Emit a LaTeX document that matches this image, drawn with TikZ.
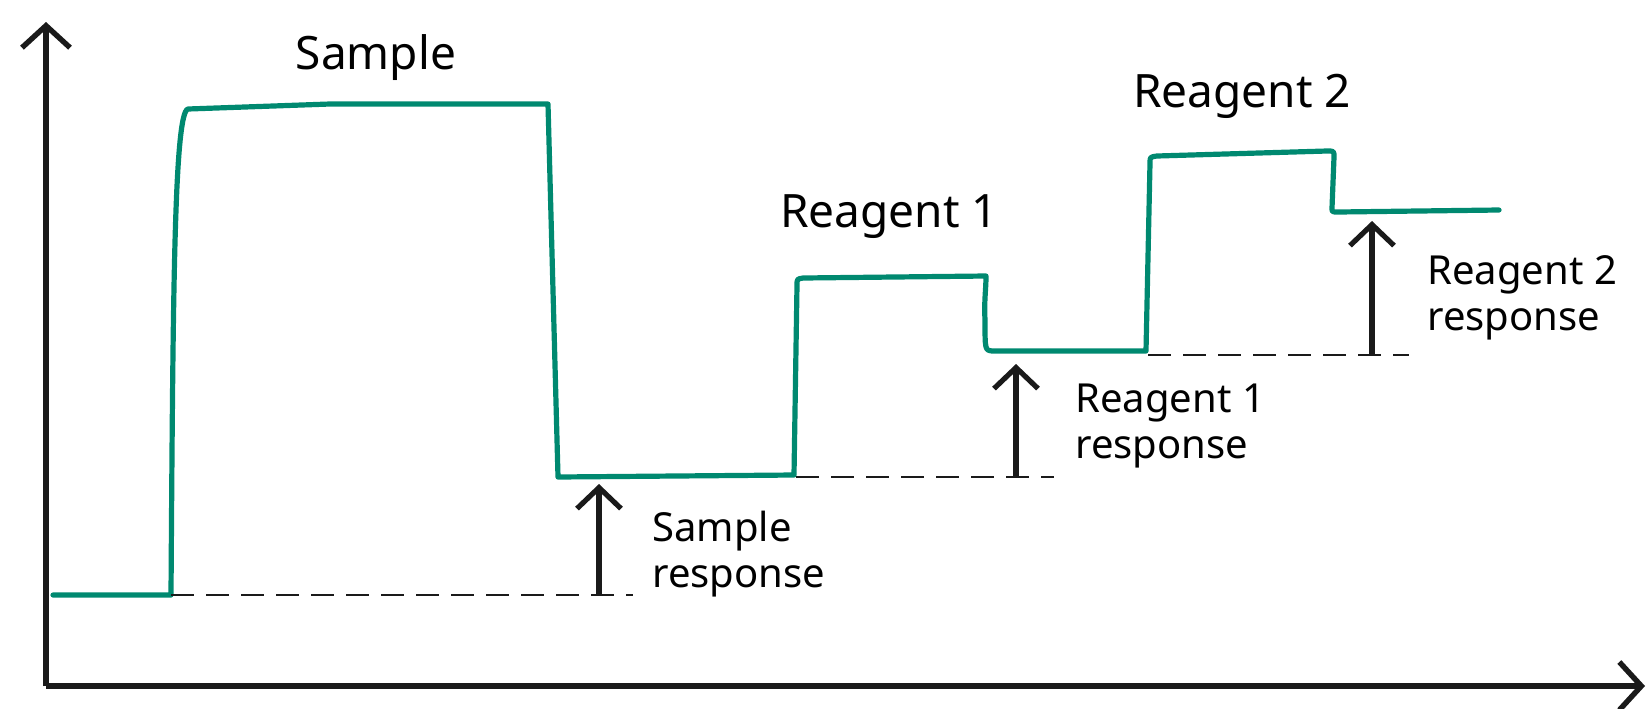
\documentclass[tikz,border=0pt]{standalone}
\usepackage{fontspec}
\setmainfont{Noto Sans}
\usetikzlibrary{arrows.meta}
\definecolor{curve}{RGB}{0,137,112}
\definecolor{ink}{RGB}{26,26,26}
\begin{document}
\begin{tikzpicture}[x=0.5pt,y=-0.5pt,
  axis/.style={draw=ink,line width=2.7pt,line cap=butt,-{Straight Barb[length=11pt,width=24pt,line width=2.7pt]}},
  resp/.style={draw=ink,line width=2.6pt,-{Straight Barb[length=10.5pt,width=22pt,line width=2.6pt]}},
  base/.style={draw=ink,line width=1.4pt,dash pattern=on 11.5pt off 6pt},
  sig/.style={draw=curve,line width=2.6pt,line join=round,line cap=round},
  bigl/.style={font=\fontsize{23}{27}\selectfont,inner sep=0pt,anchor=base},
  smalll/.style={font=\fontsize{20}{23}\selectfont,inner sep=0pt,align=left,anchor=north west}]
\useasboundingbox (0,0) rectangle (1649,708);
% axes
\coordinate (O) at (46,686);
\coordinate (Ytop) at (46,22);
\coordinate (Xend) at (1645,686);
\draw[axis] (O) -- (Ytop);
\draw[axis] (O) -- (Xend);
% signal
\coordinate (s0) at (53,595);
\coordinate (s1) at (171,595);
\coordinate (s2) at (188,109);
\coordinate (s3) at (548,104);
\coordinate (s4) at (558,477);
\coordinate (s5) at (794,475);
\coordinate (s6) at (986,276);
\coordinate (s7) at (992,351);
\coordinate (s8) at (1146,351);
\coordinate (s9) at (1334,157);
\coordinate (s10) at (1338,212);
\coordinate (s11) at (1499,210);
\draw[sig] (s0) -- (s1) .. controls (173,300) and (174,112) .. (s2)
  -- (330,104) -- (s3) -- (s4) -- (s5)
  -- (797,285) .. controls (797,279) .. (803,278) -- (s6)
  .. controls (986,290) and (984,300) .. (985,320)
  .. controls (985,350) .. (s7) -- (s8)
  -- (1150,163) .. controls (1150,157) .. (1157,156) -- (1327,151)
  .. controls (1334,151) .. (s9) -- (1332,208) .. controls (1332,212) .. (s10) -- (s11);
% baselines
\coordinate (b1e) at (633,595);
\coordinate (b2s) at (796,477);
\coordinate (b2e) at (1054,477);
\coordinate (b3s) at (1148,355);
\coordinate (b3e) at (1409,355);
\draw[base] (s1) -- (b1e);
\draw[base] (b2s) -- (b2e);
\draw[base] (b3s) -- (b3e);
% response arrows
\coordinate (a1s) at (599,595);
\coordinate (a1e) at (599,484);
\coordinate (a2s) at (1016,477);
\coordinate (a2e) at (1016,364);
\coordinate (a3s) at (1372,355);
\coordinate (a3e) at (1372,221);
\draw[resp] (a1s) -- (a1e);
\draw[resp] (a2s) -- (a2e);
\draw[resp] (a3s) -- (a3e);
% labels
\node[bigl] (lsample) at (376,69) {Sample};
\node[bigl] (lr1) at (889,227) {Reagent 1};
\node[bigl] (lr2) at (1242,107) {Reagent 2};
\node[smalll] (rs) at (652,511) {Sample\\response};
\node[smalll] (rr1) at (1075,384) {Reagent 1\\response};
\node[smalll] (rr2) at (1427,255) {Reagent 2\\response};
\end{tikzpicture}
\end{document}
